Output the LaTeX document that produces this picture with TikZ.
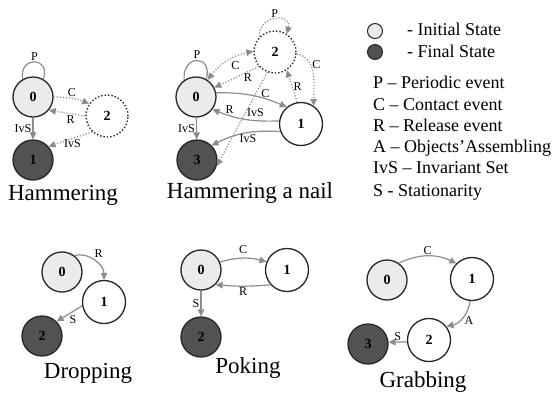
\documentclass[tikz,border=0pt]{standalone}
\usepackage{fontspec}
\setmainfont{Liberation Serif}
\usetikzlibrary{arrows.meta}
\begin{document}
\begin{tikzpicture}[x=1pt,y=1pt,
  >={Triangle[length=7pt,width=6.5pt]},
  st/.style={circle,draw=black!85,line width=1.3pt,inner sep=0pt,font=\fontsize{14}{14}\selectfont\bfseries},
  init/.style={st,fill=black!8,minimum size=40pt},
  fin/.style={st,fill=black!68,minimum size=40pt},
  mid/.style={st,fill=white,minimum size=43pt},
  dotst/.style={st,fill=white,minimum size=42pt,dash pattern=on 1.4pt off 2pt,line width=1.4pt},
  ge/.style={draw=black!45,line width=1.2pt,->},
  de/.style={ge,dash pattern=on 1.2pt off 1.8pt},
  lab/.style={font=\fontsize{12}{12}\selectfont,inner sep=1pt,text=black},
  capt/.style={font=\fontsize{23}{23}\selectfont,anchor=base},
  leg/.style={font=\fontsize{18}{18}\selectfont,anchor=base west,inner sep=0pt}
]
\useasboundingbox (0,0) rectangle (554,-392);

% ---------------- Hammering ----------------
\node[init] (h0) at (33,-97) {0};
\node[fin] (h1) at (33,-160) {1};
\node[dotst,minimum size=42pt] (h2) at (107,-116) {2};
\draw[ge,-] (h0.120) to[out=100,in=70,distance=24] node[lab,above]{P} (h0.60);
\draw[de] (h0.east) to[bend left=10] node[lab,above]{C} (h2.145);
\draw[de] (h2.180) -- node[lab,below,pos=0.4]{R} (h0.-40);
\draw[de] (h2.227) -- node[lab,below,pos=0.45]{IvS} (h1.41);
\draw[ge] (h0) -- node[lab,left]{IvS} (h1);
\node[capt] (hcap) at (63,-200) {Hammering};

% ---------------- Hammering a nail ----------------
\node[init] (n0) at (196,-97) {0};
\node[fin] (n3) at (197,-160) {3};
\node[mid] (n1) at (301,-124) {1};
\node[dotst] (n2) at (275,-52) {2};
\draw[ge,-] (n0.125) to[out=95,in=75,distance=26] node[lab,above]{P} (n0.60);
\draw[de] (n2.135) to[out=95,in=75,distance=22] node[lab,above]{P} (n2.57);
\draw[de,<->] (n0.56) to[bend left=20] node[lab,below right,pos=0.55]{C} (n2.178);
\draw[de] (n2.222) -- node[lab,below,pos=0.25]{R} (n0.27);
\draw[de] (n2.249) -- node[lab,right,pos=0.43]{IvS} (n3.-17);
\draw[de] (n2.-5) to[out=-10,in=90] node[lab,right,pos=0.35]{C} (n1.55);
\draw[de] (n1.100) -- node[lab,right,pos=0.5]{R} (n2.-57);
\draw[ge] (n0.12) to[bend left=12] node[lab,above,pos=0.7]{C} (n1.130);
\draw[ge] (n1.172) to[bend left=12] node[lab,above,pos=0.75]{R} (n0.-37);
\draw[ge] (n1.200) to[bend right=15] node[lab,below,pos=0.45]{IvS} (n3.45);
\draw[ge] (n0) -- node[lab,left]{IvS} (n3);
\node[capt] (ncap) at (250,-198) {Hammering a nail};

% ---------------- Dropping ----------------
\node[init] (d0) at (62,-272) {0};
\node[mid] (d1) at (104,-302) {1};
\node[fin] (d2) at (42,-336) {2};
\draw[ge] (d0.53) to[out=15,in=90] node[lab,above right,pos=0.45]{R} (d1.north);
\draw[ge] (d1.190) -- node[lab,below right,pos=0.55]{S} (d2.45);
\node[capt] (dcap) at (88,-378) {Dropping};

% ---------------- Poking ----------------
\node[init] (p0) at (201,-270) {0};
\node[mid] (p1) at (287,-270) {1};
\node[fin] (p2) at (201,-337) {2};
\draw[ge] (p0.23) to[bend left=15] node[lab,above=3pt]{C} (p1.158);
\draw[ge] (p1.222) to[bend left=5] node[lab,below]{R} (p0.-45);
\draw[ge] (p0) -- node[lab,left]{S} (p2);
\node[capt] (pcap) at (248,-373) {Poking};

% ---------------- Grabbing ----------------
\node[init] (g0) at (387,-280) {0};
\node[mid] (g1) at (472,-279) {1};
\node[mid] (g2) at (429,-340) {2};
\node[fin] (g3) at (368,-344) {3};
\draw[ge] (g0.55) to[bend left=25] node[lab,above]{C} (g1.135);
\draw[ge] (g1.265) to[bend left=35] node[lab,right=3pt,pos=0.6]{A} (g2.38);
\draw[ge] (g2.185) -- node[lab,above]{S} (g3.5);
\node[capt] (gcap) at (423,-387) {Grabbing};

% ---------------- Legend ----------------
\node[circle,draw=black!85,line width=1pt,fill=black!8,minimum size=15pt,inner sep=0pt] (li) at (375,-31) {};
\node[circle,draw=black!85,line width=1pt,fill=black!68,minimum size=15pt,inner sep=0pt] (lf) at (375,-52) {};
\node[leg] (t1) at (407,-35) {- Initial State};
\node[leg] (t2) at (407,-57) {- Final State};
\node[leg] (t3) at (373,-88) {P – Periodic event};
\node[leg] (t4) at (373,-110) {C – Contact event};
\node[leg] (t5) at (373,-131) {R – Release event};
\node[leg] (t6) at (373,-152) {A – Objects’Assembling};
\node[leg] (t7) at (373,-173) {IvS – Invariant Set};
\node[leg] (t8) at (373,-196) {S - Stationarity};
\end{tikzpicture}
\end{document}
